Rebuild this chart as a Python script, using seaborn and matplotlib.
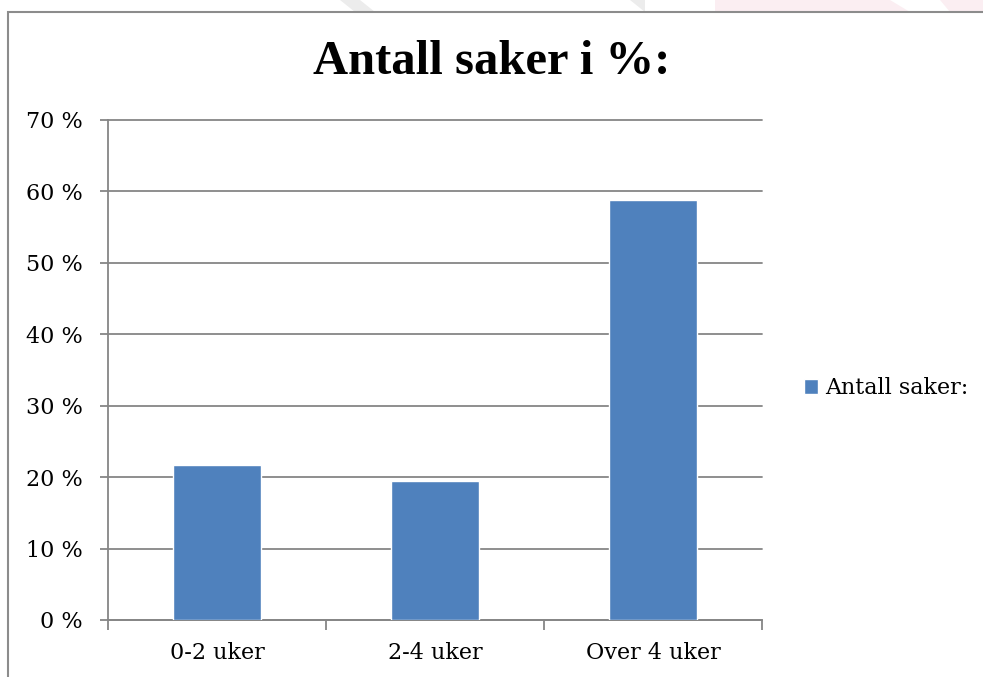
import matplotlib
matplotlib.use("Agg")
import matplotlib.pyplot as plt
import seaborn as sns
import pandas as pd
from matplotlib.patches import Rectangle, Polygon
from matplotlib.ticker import FixedLocator, FuncFormatter

categories = ["0-2 uker", "2-4 uker", "Over 4 uker"]
values = [21.7, 19.5, 58.8]
series_name = "Antall saker:"
title = "Antall saker i %:"
yticks = [0, 10, 20, 30, 40, 50, 60, 70]

sns.set_theme(style="white")
plt.rcParams["font.family"] = ["DejaVu Serif", "Liberation Serif"]
plt.rcParams["text.color"] = "black"

df = pd.DataFrame({"cat": categories, "val": values, "series": series_name})

fig = plt.figure(figsize=(9.83, 6.77), dpi=100)
fig.patch.set_facecolor("white")

# faint watermark shapes at top
fig.patches.append(Polygon([[340/983, 1], [360/983, 1], [375/983, 665/677], [355/983, 665/677]],
                           closed=True, transform=fig.transFigure, facecolor="#ececec", edgecolor="none", zorder=0))
fig.patches.append(Polygon([[630/983, 1], [645/983, 1], [645/983, 665/677]],
                           closed=True, transform=fig.transFigure, facecolor="#ececec", edgecolor="none", zorder=0))
fig.patches.append(Polygon([[715/983, 1], [890/983, 1], [910/983, 665/677], [715/983, 665/677]],
                           closed=True, transform=fig.transFigure, facecolor="#fbeef2", edgecolor="none", zorder=0))
fig.patches.append(Polygon([[940/983, 1], [983/983, 1], [983/983, 665/677], [950/983, 665/677]],
                           closed=True, transform=fig.transFigure, facecolor="#fbeef2", edgecolor="none", zorder=0))

# chart border (cropped at right/bottom)
fig.patches.append(Rectangle((8/983, -0.1), 1.2, (677-12)/677 + 0.1, transform=fig.transFigure,
                             facecolor="white", edgecolor="#8c8c8c", linewidth=1.5, zorder=1))

ax = fig.add_axes([108/983, 57/677, (762-108)/983, (620-120)/677])
ax.set_zorder(2)
ax.patch.set_alpha(0)

sns.barplot(data=df, x="cat", y="val", hue="series", palette=["#4F81BD"], width=0.4,
            saturation=1, ax=ax, zorder=3, legend=True)

ax.set_ylim(0, 70)
ax.set_xlim(-0.5, 2.5)
ax.set_yticks(yticks)
ax.yaxis.set_major_formatter(FuncFormatter(lambda v, p: f"{int(v)} %"))
ax.yaxis.grid(True, color="#868686", linewidth=1.3, zorder=1)
for gl in ax.get_ygridlines():
    gl.set_clip_on(False)
ax.set_axisbelow(True)
ax.set_xlabel("")
ax.set_ylabel("")

for s in ["top", "right"]:
    ax.spines[s].set_visible(False)
for s in ["left", "bottom"]:
    ax.spines[s].set_color("#868686")
    ax.spines[s].set_linewidth(1.3)

ax.tick_params(axis="y", which="major", length=6, width=1.3, color="#868686", direction="out",
               left=True, labelsize=16, pad=12, labelcolor="black")
ax.tick_params(axis="x", which="major", length=0, labelsize=16, pad=16, labelcolor="black")
ax.xaxis.set_minor_locator(FixedLocator([-0.5, 0.5, 1.5, 2.5]))
ax.tick_params(axis="x", which="minor", length=7, width=1.3, color="#868686", direction="out", bottom=True)

leg = ax.legend(loc="center left", bbox_to_anchor=(804/983, (677-388)/677), bbox_transform=fig.transFigure,
                frameon=False, fontsize=16, handlelength=0.65, handleheight=0.65, handletextpad=0.3,
                borderpad=0, borderaxespad=0)
for t in leg.get_texts():
    t.set_color("black")

fig.text(0.5, (677-62)/677, title, ha="center", va="center", fontsize=35, fontweight="bold",
         color="black", family=["Liberation Serif", "DejaVu Serif"])

fig.savefig("out.png", dpi=100)
